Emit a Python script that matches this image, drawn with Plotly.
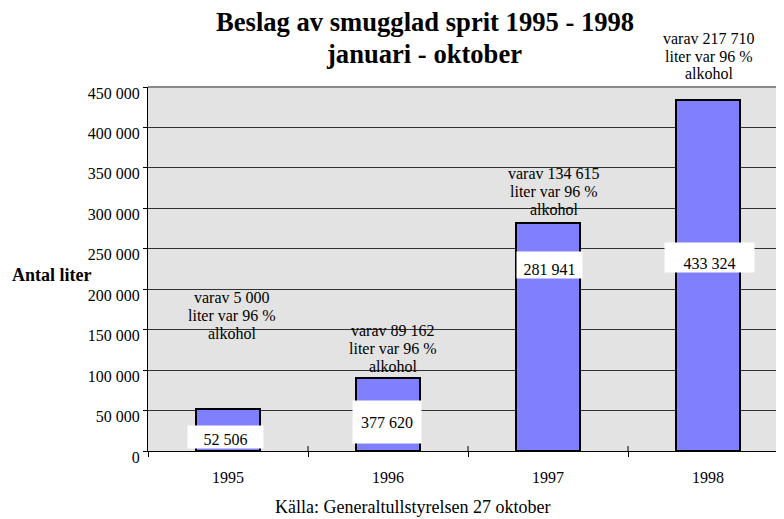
import plotly.graph_objects as go

# ---- data ----
years = ["1995", "1996", "1997", "1998"]
bar_values = [52506, 90000, 281941, 433324]          # bar heights
value_labels = ["52 506", "377 620", "281 941", "433 324"]
note_labels = [
    ["varav 5 000", "liter var 96 %", "alkohol"],
    ["varav 89 162", "liter var 96 %", "alkohol"],
    ["varav 134 615", "liter var 96 %", "alkohol"],
    ["varav 217 710", "liter var 96 %", "alkohol"],
]
y_tickvals = [0, 50000, 100000, 150000, 200000, 250000, 300000, 350000, 400000, 450000]
y_ticktext = ["0", "50 000", "100 000", "150 000", "200 000", "250 000",
              "300 000", "350 000", "400 000", "450 000"]

W, H = 784, 519
OFF = 8  # page body margin offset
L, R, T, B = 148 - OFF, 784 - OFF, 87 - OFF, 451 - OFF

def px(x):
    return (x - OFF - L) / (R - L)

def py(y):
    return (B - (y - OFF)) / (B - T)

FONT = "Liberation Serif, Times New Roman, serif"

fig = go.Figure()
fig.add_trace(go.Bar(
    x=years, y=bar_values, width=0.4,
    marker=dict(color="#8080ff", line=dict(color="black", width=2)),
    hoverinfo="skip",
))

annotations = []

# value label boxes: (center x px, center y px, w, h, valign) in reference pixels
box_style = [
    (225.5, 437, 75, 22, "bottom"),
    (387, 422, 68, 42, "middle"),
    (549.5, 265, 65, 26, "bottom"),
    (709.5, 257.5, 89, 29, "bottom"),
]
for lab, (cx, cy, w, h, va) in zip(value_labels, box_style):
    annotations.append(dict(
        text=lab, x=px(cx), y=py(cy), xref="paper", yref="paper",
        xanchor="center", yanchor="middle", showarrow=False,
        width=w, height=h, valign=va, bgcolor="white", borderpad=0,
        font=dict(family=FONT, size=16, color="black"),
    ))

# three-line notes: (center x px, first line center y px)
note_pos = [(232, 297), (393, 330), (554, 173), (709, 38)]
for lines, (cx, cy) in zip(note_labels, note_pos):
    for k, line in enumerate(lines):
        annotations.append(dict(
            text=line, x=px(cx), y=py(cy + 18 * k), xref="paper", yref="paper",
            xanchor="center", yanchor="middle", showarrow=False,
            font=dict(family=FONT, size=16, color="black"),
        ))

# title lines
annotations.append(dict(text="<b>Beslag av smugglad sprit 1995 - 1998</b>",
                        x=px(425), y=py(22), xref="paper", yref="paper",
                        xanchor="center", yanchor="middle", showarrow=False,
                        font=dict(family=FONT, size=26.6, color="black")))
annotations.append(dict(text="<b>januari - oktober</b>",
                        x=px(424), y=py(54), xref="paper", yref="paper",
                        xanchor="center", yanchor="middle", showarrow=False,
                        font=dict(family=FONT, size=26.6, color="black")))
# y axis title
annotations.append(dict(text="<b>Antal liter</b>",
                        x=px(51), y=py(275), xref="paper", yref="paper",
                        xanchor="center", yanchor="middle", showarrow=False,
                        font=dict(family=FONT, size=18, color="black")))
# source
annotations.append(dict(text="Källa: Generaltullstyrelsen 27 oktober",
                        x=px(412), y=py(507), xref="paper", yref="paper",
                        xanchor="center", yanchor="middle", showarrow=False,
                        font=dict(family=FONT, size=18, color="black")))

shapes = [
    dict(type="line", xref="paper", yref="paper", x0=0, x1=1, y0=1, y1=1,
         line=dict(color="#888888", width=2)),
]
for bnd in [0.5, 1.5, 2.5]:
    shapes.append(dict(type="line", xref="x", yref="paper", x0=bnd, x1=bnd,
                       y0=0, y1=5 / (B - T), line=dict(color="black", width=1)))

fig.update_layout(
    width=W, height=H,
    margin=dict(l=L, r=W - R, t=T, b=H - B, pad=0),
    paper_bgcolor="white", plot_bgcolor="#e3e3e3",
    showlegend=False,
    annotations=annotations,
    shapes=shapes,
    font=dict(family=FONT, size=16, color="black"),
    bargap=0,
)
fig.update_xaxes(
    type="category", range=[-0.5, 3.475], tickson="boundaries",
    ticks="outside", ticklen=5, tickcolor="black", tickwidth=1,
    showline=True, linecolor="black", linewidth=1, showgrid=False,
    ticklabelstandoff=12, tickfont=dict(family=FONT, size=16, color="black"),
    fixedrange=True,
)
fig.update_yaxes(
    range=[0, 450000], tickvals=y_tickvals, ticktext=y_ticktext,
    ticks="outside", ticklen=4, tickcolor="black", tickwidth=1,
    showline=True, linecolor="black", linewidth=1,
    showgrid=True, gridcolor="#333333", gridwidth=1, zeroline=False,
    ticklabelshift=6, ticklabelstandoff=0,
    tickfont=dict(family=FONT, size=16, color="black"),
    fixedrange=True,
)

fig.write_html("out.html")
